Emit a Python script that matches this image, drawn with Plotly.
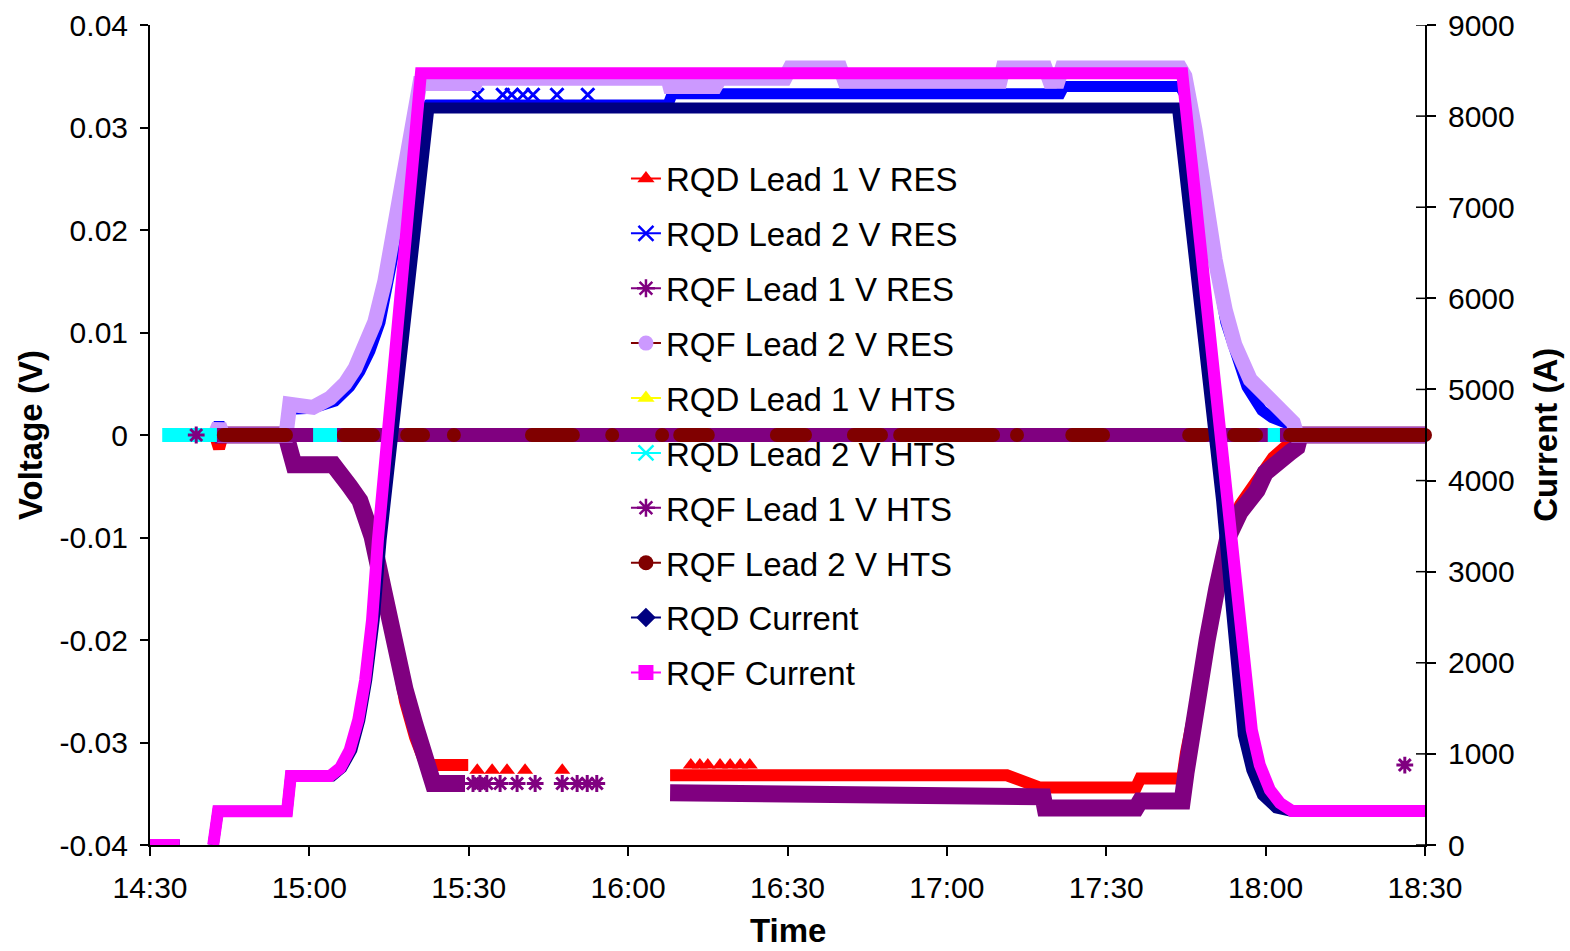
import pandas as pd
import plotly.graph_objects as go

START = pd.Timestamp("2000-01-01 14:30")

# ---------------- data (elapsed minutes after 14:30, readings) ----------------
# RQD Lead 1 V RES  (V)
rqd1_res_min = [12.2, 13.0, 13.7, 25.6, 26.2, 27.1, 33.9, 36.1, 38.0, 39.9, 42.0, 44.1, 46.1, 48.0, 49.9, 51.4, 52.7, 59.9,
                None,
                97.9, 161.3, 167.5, 185.6, 186.4, 194.3, 195.0, 196.1, 197.7, 199.5, 201.4, 203.3, 205.2, 207.1, 208.9,
                211.4, 213.6, 215.5, 216.1, 240.0]
rqd1_res_v = [0, -0.0013, 0, 0, -0.0012, -0.0027, -0.0029, -0.0041, -0.0054, -0.0068, -0.0098, -0.0150, -0.0205,
              -0.0260, -0.0295, -0.0315, -0.0322, -0.0322,
              None,
              -0.0332, -0.0332, -0.0344, -0.0344, -0.0335, -0.0335, -0.0310, -0.0285, -0.0240, -0.0185, -0.0135,
              -0.0095, -0.0068, -0.0055, -0.0042, -0.0022, -0.0012, -0.0005, 0, 0]
rqd1_res_pts_min = [61.6, 64.4, 67.2, 70.6, 77.6, 101.8, 103.5, 105.0, 107.3, 109.2, 111.1, 112.9]
rqd1_res_pts_v = [-0.0327, -0.0327, -0.0327, -0.0327, -0.0327, -0.0322, -0.0322, -0.0322, -0.0322, -0.0322,
                  -0.0322, -0.0322]

# RQD Lead 2 V RES  (V)
rqd2_res_min = [12.2, 13.0, 13.7, 25.6, 26.3, 30.5, 34.8, 37.6, 39.5, 41.4, 43.3, 45.2, 46.7, 48.0, 49.5, 50.8, 52.3,
                97.5, 98.3, 171.3, 172.0, 193.9, 195.0, 196.9, 198.8, 200.7, 202.5, 204.4, 206.5, 209.3, 211.2,
                214.6, 215.5, 240.0]
rqd2_res_v = [0, 0.0012, 0, 0, 0.0025, 0.0026, 0.0033, 0.0047, 0.0062, 0.0082, 0.0110, 0.0155, 0.0200, 0.0245,
              0.0290, 0.0315, 0.0322, 0.0322, 0.0333, 0.0333, 0.0340, 0.0340, 0.0330, 0.0275, 0.0210, 0.0155,
              0.0110, 0.0080, 0.0047, 0.0024, 0.0017, 0.0010, 0, 0]
rqd2_res_pts_min = [61.6, 66.4, 68.1, 70.2, 72.1, 76.6, 82.4]
rqd2_res_pts_v = [0.0332, 0.0332, 0.0332, 0.0332, 0.0332, 0.0332, 0.0332]

# RQF Lead 1 V RES  (V)
rqf1_res_min = [12.2, 25.6, 26.2, 27.1, 34.5, 35.8, 37.6, 39.5, 41.8, 43.9, 45.7, 48.0, 49.9, 51.2, 52.3, 53.3, 59.3,
                None,
                97.9, 161.3, 162.0, 168.1, 168.5, 185.6, 186.4, 194.3, 195.0, 196.1, 197.7, 199.0, 200.8, 202.9,
                205.2, 207.1, 208.4, 209.9, 211.4, 213.3, 214.6, 215.9, 216.5, 240.0]
rqf1_res_v = [0, 0, -0.0012, -0.0029, -0.0029, -0.0041, -0.0050, -0.0064, -0.0099, -0.0150, -0.0199, -0.0248,
              -0.0283, -0.0307, -0.0326, -0.0340, -0.0340,
              None,
              -0.0349, -0.0349, -0.0353, -0.0353, -0.0364, -0.0364, -0.0357, -0.0357, -0.0330, -0.0290, -0.0245,
              -0.0200, -0.0150, -0.0100, -0.0075, -0.0063, -0.0054, -0.0037, -0.0032, -0.0024, -0.0017, -0.0012,
              0, 0]
rqf1_res_pts_min = [60.8, 62.1, 63.4, 65.9, 69.1, 72.5, 77.6, 80.4, 82.3, 84.1, 236.2]
rqf1_res_pts_v = [-0.034, -0.034, -0.034, -0.034, -0.034, -0.034, -0.034, -0.034, -0.034, -0.034, -0.0322]

# RQF Lead 2 V RES  (V)
rqf2_res_min = [12.2, 13.0, 13.7, 25.6, 26.3, 30.7, 33.9, 36.7, 38.6, 40.5, 42.3, 44.2, 45.6, 47.1, 48.6, 49.7,
                50.8, 61.2, 61.6, 97.5, 97.9, 106.4, 107.3, 119.5, 120.5, 129.9, 130.8, 160.0, 160.6, 168.5,
                169.4, 170.9, 171.7, 193.9, 194.8, 196.7, 198.6, 200.5, 202.4, 204.2, 207.1, 209.9, 212.7,
                215.2, 215.9, 240.0]
rqf2_res_v = [0, 0.0010, 0, 0, 0.0030, 0.0027, 0.0036, 0.0050, 0.0065, 0.0085, 0.0110, 0.0150, 0.0190, 0.0239,
              0.0290, 0.0325, 0.0343, 0.0343, 0.0348, 0.0348, 0.0340, 0.0340, 0.0348, 0.0348, 0.0358, 0.0358,
              0.0345, 0.0345, 0.0358, 0.0358, 0.0345, 0.0345, 0.0358, 0.0358, 0.0350, 0.0298, 0.0229, 0.0171,
              0.0122, 0.0088, 0.0054, 0.0040, 0.0029, 0.0012, 0, 0]

# HTS leads (V)
rqd1_hts_min = [12.6, 240.0]
rqd1_hts_v = [0, 0]
rqd2_hts_min = [2.3, 240.0]
rqd2_hts_v = [0, 0]
rqf1_hts_min = [12.6, 30.7, None, 35.2, 210.4, None, 212.7, 240.0]
rqf1_hts_v = [0, 0, None, 0, 0, None, 0, 0]
rqf1_hts_pts_min = [8.7]
rqf1_hts_pts_v = [0]
rqf2_hts_min = [13.9, 25.6, None, 36.5, 42.0, None, 48.4, 51.4, None, 57.2, None, 71.9, 79.6, None, 87.0, None,
                96.4, None, 99.8, 105.0, None, 118.0, 123.3, None, 132.5, 137.6, None, 141.2, 158.7, None,
                163.2, None, 173.6, 179.4, None, 195.6, 198.6, None, 204.1, 208.2, None, 214.6, 240.0]
rqf2_hts_v = [0, 0, None, 0, 0, None, 0, 0, None, 0, None, 0, 0, None, 0, None,
              0, None, 0, 0, None, 0, 0, None, 0, 0, None, 0, 0, None,
              0, None, 0, 0, None, 0, 0, None, 0, 0, None, 0, 0]

# Currents (A)
rqd_cur_min = [0, 5.6, None, 11.9, 12.8, 25.8, 26.5, 34.3, 36.1, 38.0, 39.5, 40.8, 42.2, 43.5, 52.5, 193.4, 199.4,
               201.7, 203.4, 204.6, 205.8, 207.4, 209.4, 212.0, 214.6, 240.0]
rqd_cur_a = [0, 0, None, 0, 370, 370, 757, 757, 845, 1043, 1372, 1811, 2470, 3348, 8090, 8090, 5104, 3787,
             2689, 1811, 1207, 823, 549, 406, 373, 373]
rqf_cur_min = [0, 5.6, None, 11.9, 12.8, 25.8, 26.5, 33.9, 35.8, 37.6, 39.2, 40.5, 41.8, 42.9, 51.0, 194.3, 204.8,
               206.1, 207.4, 208.9, 210.8, 212.7, 215.0, 240.0]
rqf_cur_a = [0, 0, None, 0, 370, 370, 757, 757, 845, 1043, 1372, 1811, 2470, 3348, 8470, 8470, 2689, 1811, 1262,
             878, 604, 461, 373, 373]

# axis ticks
volt_ticks = [0.04, 0.03, 0.02, 0.01, 0, -0.01, -0.02, -0.03, -0.04]
volt_labels = ["0.04", "0.03", "0.02", "0.01", "0", "-0.01", "-0.02", "-0.03", "-0.04"]
cur_ticks = [0, 1000, 2000, 3000, 4000, 5000, 6000, 7000, 8000, 9000]
time_labels = ["14:30", "15:00", "15:30", "16:00", "16:30", "17:00", "17:30", "18:00", "18:30"]

series_names = ["RQD Lead 1 V RES", "RQD Lead 2 V RES", "RQF Lead 1 V RES", "RQF Lead 2 V RES",
                "RQD Lead 1 V HTS", "RQD Lead 2 V HTS", "RQF Lead 1 V HTS", "RQF Lead 2 V HTS",
                "RQD Current", "RQF Current"]
line_colors = ["#FF0000", "#0000FF", "#800080", "#800000", "#FFFF00", "#00FFFF", "#800080", "#800000",
               "#000080", "#FF00FF"]
marker_colors = ["#FF0000", "#0000FF", "#800080", "#CC99FF", "#FFFF00", "#00FFFF", "#800080", "#800000",
                 "#000080", "#FF00FF"]
symbols = ["triangle-up", "x-thin-open", "asterisk-open", "circle", "triangle-up", "x-thin-open",
           "asterisk-open", "circle", "diamond", "square"]


def to_time(mins):
    return [None if m is None else str(START + pd.Timedelta(minutes=m)) for m in mins]


FONT = "Liberation Sans, Arial, sans-serif"
fig = go.Figure()

# (series index, minutes, values, axis, band width, drawing colour)
bands = [
    (0, rqd1_res_min, rqd1_res_v, "y", 12, "#FF0000"),
    (1, rqd2_res_min, rqd2_res_v, "y", 11, "#0000FF"),
    (2, rqf1_res_min, rqf1_res_v, "y", 17, "#800080"),
    (3, rqf2_res_min, rqf2_res_v, "y", 15, "#CC99FF"),
    (4, rqd1_hts_min, rqd1_hts_v, "y", 12, "#FFFF00"),
    (5, rqd2_hts_min, rqd2_hts_v, "y", 14, "#00FFFF"),
    (6, rqf1_hts_min, rqf1_hts_v, "y", 14, "#800080"),
    (7, rqf2_hts_min, rqf2_hts_v, "y", 14, "#800000"),
    (8, rqd_cur_min, rqd_cur_a, "y2", 11, "#000080"),
    (9, rqf_cur_min, rqf_cur_a, "y2", 12, "#FF00FF"),
]
points = {
    0: (rqd1_res_pts_min, rqd1_res_pts_v, 14),
    1: (rqd2_res_pts_min, rqd2_res_pts_v, 13),
    2: (rqf1_res_pts_min, rqf1_res_pts_v, 14),
    6: (rqf1_hts_pts_min, rqf1_hts_pts_v, 14),
}

for i, mins, vals, ax, w, col in bands:
    name = series_names[i]
    open_sym = symbols[i].endswith("open")
    # legend entry
    fig.add_trace(go.Scatter(
        x=[None], y=[None], name=name, legendgroup=name, mode="lines+markers", yaxis=ax,
        line=dict(color=line_colors[i], width=2),
        marker=dict(symbol=symbols[i], size=15, color=marker_colors[i],
                    line=dict(width=2.5 if open_sym else 0, color=marker_colors[i]))))
    # dense readings drawn as band
    is_maroon = (i == 7)
    fig.add_trace(go.Scatter(
        x=to_time(mins), y=vals, name=name, legendgroup=name, showlegend=False, yaxis=ax,
        mode="lines+markers" if is_maroon else "lines",
        line=dict(color=col, width=w),
        marker=dict(symbol="circle", size=14, color=col),
        connectgaps=False, cliponaxis=False, hoverinfo="skip"))
    if i in points:
        pm, pv, sz = points[i]
        fig.add_trace(go.Scatter(
            x=to_time(pm), y=pv, name=name, legendgroup=name, showlegend=False, yaxis=ax, mode="markers",
            marker=dict(symbol=symbols[i], size=sz, color=marker_colors[i],
                        line=dict(width=3 if open_sym else 0, color=marker_colors[i])),
            cliponaxis=False, hoverinfo="skip"))

# crossing ticks on the right axis (inner half)
for v in cur_ticks:
    fig.add_shape(type="line", xref="paper", yref="y2", x0=1 - 9 / 1275, x1=1, y0=v, y1=v,
                  line=dict(color="#000000", width=1.5))

fig.update_layout(
    width=1570, height=951,
    margin=dict(l=150, r=145, t=25, b=106, autoexpand=False),
    paper_bgcolor="white", plot_bgcolor="white",
    font=dict(family=FONT, size=30, color="black"),
    showlegend=True,
    legend=dict(x=0.3733, y=0.847, xanchor="left", yanchor="top", bgcolor="rgba(0,0,0,0)",
                font=dict(size=33, family=FONT), tracegroupgap=9, itemwidth=30,
                traceorder="grouped"),
    xaxis=dict(
        type="date", automargin=False,
        range=[str(START), str(START + pd.Timedelta(minutes=240))],
        tickvals=[str(START + pd.Timedelta(minutes=30 * k)) for k in range(len(time_labels))],
        ticktext=time_labels,
        ticks="outside", ticklen=9, tickwidth=1.5, tickcolor="black",
        showline=True, linecolor="#000000", linewidth=2, showgrid=False, zeroline=False,
        tickfont=dict(size=30), ticklabelstandoff=6),
    yaxis=dict(
        range=[-0.04, 0.04], tickvals=volt_ticks, ticktext=volt_labels, automargin=False,
        ticks="outside", ticklen=8, tickwidth=1.5, tickcolor="black",
        showline=True, linecolor="#000000", linewidth=2, showgrid=False, zeroline=False,
        tickfont=dict(size=30), ticklabelstandoff=6),
    yaxis2=dict(
        range=[0, 9000], overlaying="y", side="right", tickvals=cur_ticks, automargin=False,
        ticktext=[str(v) for v in cur_ticks],
        ticks="outside", ticklen=9, tickwidth=1.5, tickcolor="black",
        showline=True, linecolor="#000000", linewidth=2, showgrid=False, zeroline=False,
        tickfont=dict(size=30), ticklabelstandoff=6),
    annotations=[
        dict(text="<b>Voltage (V)</b>", xref="paper", yref="paper", x=-0.0941, y=0.5, textangle=-90,
             showarrow=False, font=dict(size=33, family=FONT), xanchor="center", yanchor="middle"),
        dict(text="<b>Current (A)</b>", xref="paper", yref="paper", x=1.094, y=0.5, textangle=-90,
             showarrow=False, font=dict(size=33, family=FONT), xanchor="center", yanchor="middle"),
        dict(text="<b>Time</b>", xref="paper", yref="paper", x=0.5, y=-0.1037,
             showarrow=False, font=dict(size=33, family=FONT), xanchor="center", yanchor="middle"),
    ],
)

fig.write_html("out.html")
